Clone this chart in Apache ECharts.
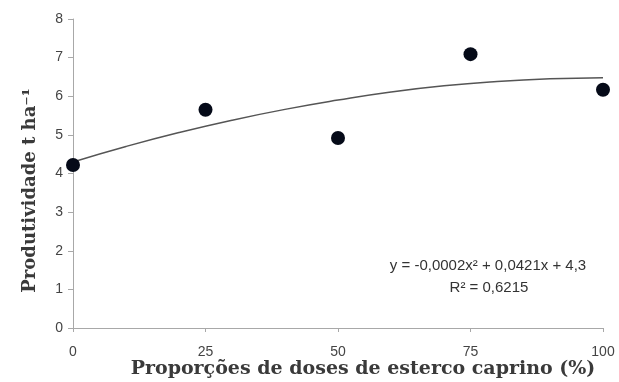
<!DOCTYPE html>
<html>
<head>
<meta charset="utf-8">
<script src="https://cdn.jsdelivr.net/npm/echarts@6/dist/echarts.min.js"></script>
<style>html,body{margin:0;padding:0;background:#fff}#c{width:619px;height:382px}</style>
</head>
<body>
<div id="c"></div>
<script>
// Observed points
var doses = [0, 25, 50, 75, 100];
var productivity = [4.22, 5.65, 4.92, 7.09, 6.17];
// Trend line
var trendX = [0, 10, 20, 30, 40, 50, 60, 70, 80, 90, 100];
var trendY = [4.30, 4.70, 5.06, 5.38, 5.66, 5.90, 6.11, 6.27, 6.38, 6.45, 6.48];
var equationText = 'y = -0,0002x² + 0,0421x + 4,3';
var r2Text = 'R² = 0,6215';

var chart = echarts.init(document.getElementById('c'));
chart.setOption({
  animation: false,
  grid: {left: 73, right: 16, top: 19, bottom: 54, outerBoundsMode: 'none', containLabel: false},
  xAxis: {
    type: 'value', min: 0, max: 100, interval: 25,
    name: 'Proporções de doses de esterco caprino (%)',
    nameLocation: 'middle', nameGap: 32, nameMoveOverlap: false,
    nameTextStyle: {fontFamily: 'DejaVu Serif', fontWeight: 'bold', fontSize: 19, color: '#3a3a3a', padding: [0, 0, 0, 50]},
    axisLine: {lineStyle: {color: '#a8a8a8'}},
    axisTick: {show: true, length: 4, lineStyle: {color: '#a8a8a8'}},
    axisLabel: {fontFamily: 'Liberation Sans', fontSize: 14, color: '#444', margin: 17},
    splitLine: {show: false}
  },
  yAxis: {
    type: 'value', min: 0, max: 8, interval: 1,
    name: 'Produtividade t ha⁻¹',
    nameLocation: 'middle', nameGap: 34, nameMoveOverlap: false,
    nameTextStyle: {fontFamily: 'DejaVu Serif', fontWeight: 'bold', fontSize: 18, color: '#3a3a3a', padding: [0, 34, 0, 0]},
    axisLine: {show: true, lineStyle: {color: '#a8a8a8'}},
    axisTick: {show: true, length: 5, lineStyle: {color: '#a8a8a8'}},
    axisLabel: {fontFamily: 'Liberation Sans', fontSize: 14, color: '#444', margin: 10},
    splitLine: {show: false}
  },
  graphic: [
    {type: 'text', x: 488, y: 266, style: {text: equationText, font: '15px "Liberation Sans"', fill: '#333', align: 'center', verticalAlign: 'middle'}},
    {type: 'text', x: 489, y: 288, style: {text: r2Text, font: '15px "Liberation Sans"', fill: '#333', align: 'center', verticalAlign: 'middle'}}
  ],
  series: [
    {
      type: 'line', smooth: true, symbol: 'none',
      data: trendX.map(function (x, i) { return [x, trendY[i]]; }),
      lineStyle: {color: '#555', width: 1.5}, z: 2
    },
    {
      type: 'scatter', symbolSize: 14,
      data: doses.map(function (x, i) { return [x, productivity[i]]; }),
      itemStyle: {color: '#050a18', opacity: 1}, z: 3
    }
  ]
});
</script>
</body>
</html>
